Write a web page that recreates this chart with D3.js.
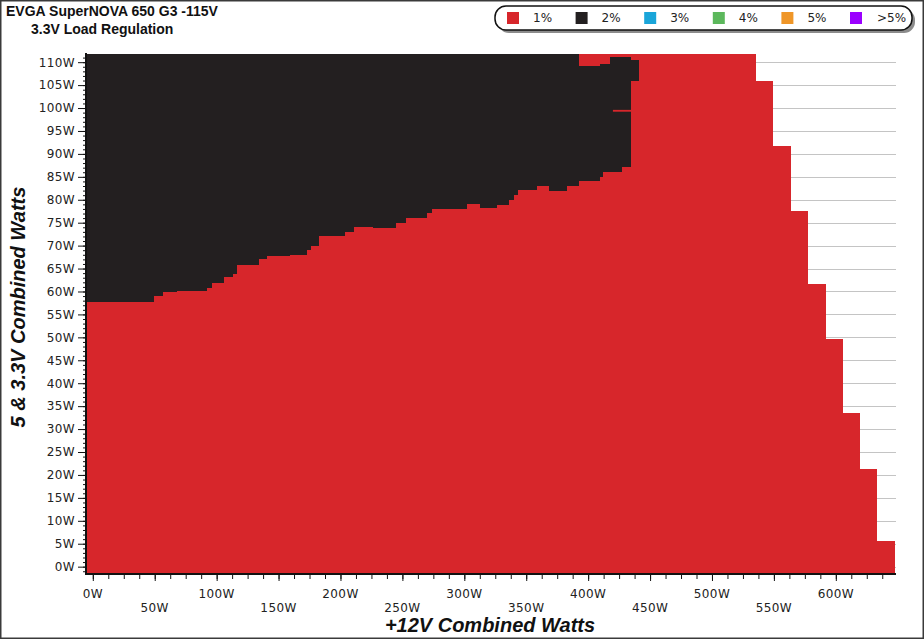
<!DOCTYPE html>
<html>
<head>
<meta charset="utf-8">
<script src="https://cdn.jsdelivr.net/npm/d3@7"></script>
<style>
  body { margin: 0; background: #fff; }
  svg { display: block; }
  .tick text { font-family: 'DejaVu Sans', Verdana, sans-serif; font-size: 12px; fill: #222; letter-spacing: 0.4px; }
</style>
</head>
<body>
<div id="chart"></div>
<script>
//Chart text
const titleText = 'EVGA SuperNOVA 650 G3 -115V';
const subtitleText = '3.3V Load Regulation';
const xTitle = '+12V Combined Watts';
const yTitle = '5 & 3.3V Combined Watts';

//Legend
const legendLabels = ['1%', '2%', '3%', '4%', '5%', '>5%'];
const legendColors = ['#d7262b', '#231f20', '#1aa5d9', '#5cb85c', '#ef9628', '#9b00ff'];

//Ticks
const xMajor = [0, 50, 100, 150, 200, 250, 300, 350, 400, 450, 500, 550, 600];
const yMajor = [0, 5, 10, 15, 20, 25, 30, 35, 40, 45, 50, 55, 60, 65, 70, 75, 80, 85, 90, 95, 100, 105, 110];

//1% region (red): outer step edge, column starts on +12V axis and 5&3.3V height
const redX = [-5.5, 535.7, 549.2, 563.7, 577.9, 592.0, 605.4, 619.7, 633.2, 648.1];
const redTop = [111.7, 105.8, 91.8, 77.6, 61.6, 49.6, 33.4, 21.2, 5.6];

//2% region (black): column starts, lower and upper edge
const blackX = [-5.5, 49.3, 56.8, 67.6, 91.9, 95.9, 105.8, 113.4, 116.3, 134.1, 140.8, 159.2,
  172.7, 175.9, 182.8, 203.6, 210.9, 226.5, 244.8, 252.9, 269.6, 273.7, 301.9, 312.7,
  326.2, 336.4, 340.2, 343.6, 358.5, 368.4, 382.7, 392.9, 409.6, 412.3, 417.7, 427.2, 434.7, 441.4];
const blackLow = [57.8, 59.0, 59.8, 60.1, 60.8, 61.9, 63.1, 63.8, 65.7, 67.0, 67.7, 68.0,
  69.1, 69.9, 72.0, 73.0, 74.1, 73.9, 74.9, 76.0, 77.1, 78.0, 79.0, 78.1,
  78.9, 80.0, 81.0, 82.1, 82.9, 82.0, 82.9, 84.1, 85.0, 86.1, 86.1, 87.2, 105.8];
const blackHigh = [111.7, 111.7, 111.7, 111.7, 111.7, 111.7, 111.7, 111.7, 111.7, 111.7, 111.7, 111.7,
  111.7, 111.7, 111.7, 111.7, 111.7, 111.7, 111.7, 111.7, 111.7, 111.7, 111.7, 111.7,
  111.7, 111.7, 111.7, 111.7, 111.7, 111.7, 111.7, 109.2, 109.5, 109.5, 111.2, 111.2, 110.5];

//thin 1% strip inside the black block
const sliverX = [420.0, 434.7];
const sliverY = [99.2, 99.6];

const W = 924, H = 639;
const plot = {left: 86, right: 896, top: 53, bottom: 574};

const x = d3.scaleLinear().domain([-5.5, 648.6]).range([plot.left, plot.right]);
const y = d3.scaleLinear().domain([-1.6, 112]).range([plot.bottom, plot.top]);

const svg = d3.select('#chart').append('svg')
    .attr('width', W)
    .attr('height', H);

svg.append('rect')
    .attr('x', 0.75).attr('y', 0.75)
    .attr('width', W - 1.5).attr('height', H - 1.5)
    .attr('fill', '#fff')
    .attr('stroke', '#3a3a3a')
    .attr('stroke-width', 1.5);

//Titles
svg.append('text')
    .attr('x', 6).attr('y', 16)
    .style('font', 'bold 14px "Liberation Sans", Arial, sans-serif')
    .style('fill', '#111')
    .text(titleText);

svg.append('text')
    .attr('x', 31).attr('y', 34)
    .style('font', 'bold 14px "Liberation Sans", Arial, sans-serif')
    .style('fill', '#111')
    .text(subtitleText);

//Grid lines
svg.append('g')
    .selectAll('line')
    .data(yMajor)
    .enter()
    .append('line')
    .attr('x1', plot.left).attr('x2', plot.right)
    .attr('y1', d => Math.round(y(d)) + 0.5).attr('y2', d => Math.round(y(d)) + 0.5)
    .attr('stroke', '#c4c4c4')
    .attr('stroke-width', 1);

//Red area
const redData = redTop.map((t, i) => ({w: redX[i], top: t}));
redData.push({w: redX[redX.length - 1], top: redTop[redTop.length - 1]});

const redArea = d3.area()
    .x(d => x(d.w))
    .y0(y(-1.6))
    .y1(d => y(d.top))
    .curve(d3.curveStepAfter);

svg.append('path')
    .datum(redData)
    .attr('d', redArea)
    .attr('fill', legendColors[0])
    .attr('shape-rendering', 'crispEdges');

//Black area
const blackData = blackLow.map((l, i) => ({w: blackX[i], low: l, high: blackHigh[i]}));
blackData.push({w: blackX[blackX.length - 1], low: blackLow[blackLow.length - 1], high: blackHigh[blackHigh.length - 1]});

const blackArea = d3.area()
    .x(d => x(d.w))
    .y0(d => y(d.low))
    .y1(d => y(d.high))
    .curve(d3.curveStepAfter);

svg.append('path')
    .datum(blackData)
    .attr('d', blackArea)
    .attr('fill', legendColors[1])
    .attr('shape-rendering', 'crispEdges');

svg.append('rect')
    .attr('x', x(sliverX[0]))
    .attr('width', x(sliverX[1]) - x(sliverX[0]))
    .attr('y', y(sliverY[1]))
    .attr('height', y(sliverY[0]) - y(sliverY[1]))
    .attr('fill', legendColors[0]);

//Y axis
const yMinor = d3.range(-1, 112, 1);
svg.append('g')
    .attr('transform', `translate(${plot.left}, 0)`)
    .call(d3.axisLeft(y).tickValues(yMinor).tickSize(3).tickFormat(''))
    .call(g => g.select('.domain').remove())
    .call(g => g.selectAll('line').attr('stroke', '#111'));

svg.append('g')
    .attr('transform', `translate(${plot.left}, 0)`)
    .call(d3.axisLeft(y).tickValues(yMajor).tickSize(8).tickPadding(3).tickFormat(d => d + 'W'))
    .call(g => g.select('.domain').remove())
    .call(g => g.selectAll('line').attr('stroke', '#111'));

//X axis
const xMinor = d3.range(0, 640, 12.5);
svg.append('g')
    .attr('transform', `translate(0, ${plot.bottom})`)
    .call(d3.axisBottom(x).tickValues(xMinor).tickSize(5).tickFormat(''))
    .call(g => g.select('.domain').remove())
    .call(g => g.selectAll('line').attr('stroke', '#111'));

svg.append('g')
    .attr('transform', `translate(0, ${plot.bottom})`)
    .call(d3.axisBottom(x).tickValues(xMajor).tickSize(7).tickFormat(''))
    .call(g => g.select('.domain').remove())
    .call(g => g.selectAll('line').attr('stroke', '#111'));

svg.append('g')
    .selectAll('text')
    .data(xMajor)
    .enter()
    .append('text')
    .attr('x', d => x(d))
    .attr('y', (d, i) => i % 2 === 0 ? 598 : 612)
    .attr('text-anchor', 'middle')
    .style('font', '12px "DejaVu Sans", Verdana, sans-serif')
    .style('letter-spacing', '0.4px')
    .style('fill', '#222')
    .text(d => d + 'W');

//Axis lines
svg.append('line')
    .attr('x1', plot.left).attr('x2', plot.left)
    .attr('y1', plot.top).attr('y2', plot.bottom + 1)
    .attr('stroke', '#111').attr('stroke-width', 2);

svg.append('line')
    .attr('x1', plot.left - 1).attr('x2', plot.right)
    .attr('y1', plot.bottom).attr('y2', plot.bottom)
    .attr('stroke', '#111').attr('stroke-width', 2);

//Axis titles
svg.append('text')
    .attr('x', 490).attr('y', 632)
    .attr('text-anchor', 'middle')
    .style('font', 'italic bold 20px "Liberation Sans", Arial, sans-serif')
    .style('fill', '#111')
    .text(xTitle);

svg.append('text')
    .attr('transform', 'translate(25, 307) rotate(-90)')
    .attr('text-anchor', 'middle')
    .style('font', 'italic bold 20px "Liberation Sans", Arial, sans-serif')
    .style('fill', '#111')
    .text(yTitle);

//Legend
const legend = svg.append('g');
legend.append('rect')
    .attr('x', 498).attr('y', 9)
    .attr('width', 417).attr('height', 24)
    .attr('rx', 11)
    .attr('fill', '#8c8c8c');
legend.append('rect')
    .attr('x', 495).attr('y', 6)
    .attr('width', 417).attr('height', 24)
    .attr('rx', 11)
    .attr('fill', '#fff')
    .attr('stroke', '#111')
    .attr('stroke-width', 1.5);

const key = legend.selectAll('.key')
    .data(legendLabels)
    .enter()
    .append('g')
    .attr('class', 'key')
    .attr('transform', (d, i) => `translate(${507 + i * 68.6}, 12)`);

key.append('rect')
    .attr('width', 12).attr('height', 12)
    .attr('fill', (d, i) => legendColors[i]);

key.append('text')
    .attr('x', (d, i) => i === 5 ? 27 : 26)
    .attr('y', 10)
    .style('font', '12px "DejaVu Sans", Verdana, sans-serif')
    .style('fill', '#222')
    .text(d => d);
</script>
</body>
</html>
